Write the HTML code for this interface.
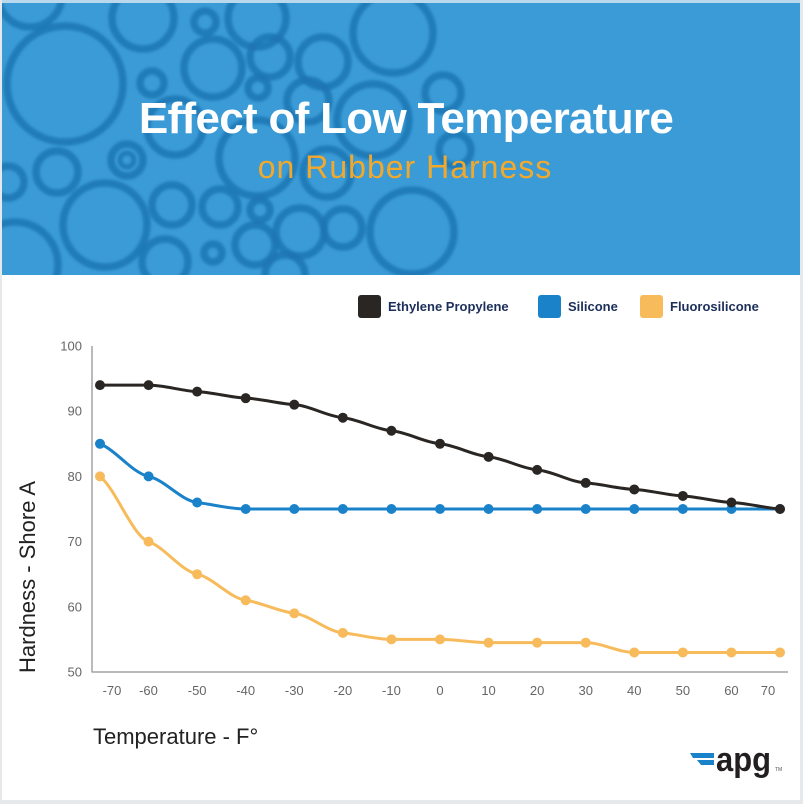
<!DOCTYPE html>
<html><head><meta charset="utf-8">
<style>
html,body{margin:0;padding:0;background:#fff;}
body{width:803px;height:804px;overflow:hidden;position:relative;font-family:"Liberation Sans",Arial,sans-serif;}
svg{display:block;}
</style></head>
<body>
<svg id="s" width="803" height="804" viewBox="0 0 803 804" xmlns="http://www.w3.org/2000/svg">
<defs>
<filter id="bl" x="-10%" y="-10%" width="120%" height="120%"><feGaussianBlur stdDeviation="1.2"/></filter>
<clipPath id="bc"><rect x="2" y="3" width="798" height="272"/></clipPath>
</defs>
<!-- frame -->
<rect x="0" y="0" width="803" height="804" fill="#e6e9ec"/>
<rect x="2" y="0" width="798" height="800" fill="#ffffff"/>
<rect x="2" y="0" width="798" height="3" fill="#b9d8ee"/>
<!-- banner -->
<rect x="2" y="3" width="798" height="272" fill="#3b9bd6"/>
<g clip-path="url(#bc)" fill="none" stroke="#1c74b1" stroke-opacity="0.8" stroke-width="7.5" filter="url(#bl)">
<circle cx="30" cy="-5" r="32"/>
<circle cx="65" cy="84" r="58"/>
<circle cx="143" cy="18" r="31"/>
<circle cx="205" cy="22" r="11"/>
<circle cx="257" cy="18" r="29"/>
<circle cx="393" cy="33" r="40"/>
<circle cx="213" cy="68" r="29"/>
<circle cx="270" cy="57" r="20"/>
<circle cx="323" cy="62" r="25"/>
<circle cx="152" cy="83" r="12"/>
<circle cx="258" cy="88" r="10"/>
<circle cx="308" cy="101" r="21"/>
<circle cx="373" cy="120" r="36"/>
<circle cx="443" cy="93" r="18"/>
<circle cx="175" cy="127" r="28"/>
<circle cx="127" cy="160" r="16"/>
<circle cx="127" cy="160" r="7" stroke-width="5"/>
<circle cx="257" cy="158" r="38"/>
<circle cx="327" cy="173" r="24"/>
<circle cx="57" cy="172" r="21"/>
<circle cx="8" cy="182" r="16"/>
<circle cx="105" cy="225" r="42"/>
<circle cx="172" cy="205" r="20"/>
<circle cx="220" cy="207" r="18"/>
<circle cx="260" cy="210" r="10"/>
<circle cx="412" cy="232" r="42"/>
<circle cx="15" cy="265" r="43"/>
<circle cx="255" cy="245" r="20"/>
<circle cx="300" cy="232" r="24"/>
<circle cx="343" cy="228" r="19"/>
<circle cx="165" cy="262" r="23"/>
<circle cx="213" cy="253" r="9"/>
<circle cx="285" cy="275" r="20"/>
<circle cx="455" cy="150" r="16"/>
</g>
<text x="406" y="133" text-anchor="middle" font-family="Liberation Sans, sans-serif" font-weight="bold" font-size="44" letter-spacing="-0.7" fill="#ffffff">Effect of Low Temperature</text>
<text x="405" y="178" text-anchor="middle" font-family="Liberation Sans, sans-serif" font-size="32" letter-spacing="1" fill="#f2a92b">on Rubber Harness</text>

<!-- legend -->
<rect x="358" y="295" width="23" height="23" rx="3" fill="#2a2624"/>
<text x="388" y="311" font-family="Liberation Sans, sans-serif" font-weight="bold" font-size="13" fill="#1c2e5a">Ethylene Propylene</text>
<rect x="538" y="295" width="23" height="23" rx="3" fill="#1a82c9"/>
<text x="568" y="311" font-family="Liberation Sans, sans-serif" font-weight="bold" font-size="13" fill="#1c2e5a">Silicone</text>
<rect x="640" y="295" width="23" height="23" rx="3" fill="#f7bb5c"/>
<text x="670" y="311" font-family="Liberation Sans, sans-serif" font-weight="bold" font-size="13" fill="#1c2e5a">Fluorosilicone</text>

<!-- axes -->
<line x1="92" y1="346" x2="92" y2="672.5" stroke="#a3a3a3" stroke-width="1.5"/>
<line x1="92" y1="672" x2="788" y2="672" stroke="#a3a3a3" stroke-width="1.5"/>
<g font-family="Liberation Sans, sans-serif" font-size="13" fill="#666" text-anchor="end">
<text x="82" y="350.5">100</text>
<text x="82" y="415.7">90</text>
<text x="82" y="480.9">80</text>
<text x="82" y="546.1">70</text>
<text x="82" y="611.3">60</text>
<text x="82" y="676.5">50</text>
</g>
<g id="xt" font-family="Liberation Sans, sans-serif" font-size="13" fill="#666" text-anchor="middle"></g>
<g id="series"></g>

<text x="93" y="744" font-family="Liberation Sans, sans-serif" font-size="22" fill="#222">Temperature - F°</text>
<text transform="translate(35,577) rotate(-90)" text-anchor="middle" font-family="Liberation Sans, sans-serif" font-size="22" fill="#222">Hardness - Shore A</text>

<!-- logo -->
<polygon points="690,753 714,753 714,758 693,758" fill="#1a82c9"/>
<polygon points="697,760 714,760 714,765 701,765" fill="#1a82c9"/>
<text x="716" y="771" font-family="Liberation Sans, sans-serif" font-weight="bold" font-size="34" textLength="55" lengthAdjust="spacingAndGlyphs" fill="#231f20">apg</text>
<text x="775" y="771" font-family="Liberation Sans, sans-serif" font-size="5" fill="#555">TM</text>
</svg>
<script>
(function(){
var NS="http://www.w3.org/2000/svg";
var xs=[];for(var i=0;i<15;i++)xs.push(100+i*(680/14));
function Y(v){return 672-(v-50)*6.52;}
var labels=["-70","-60","-50","-40","-30","-20","-10","0","10","20","30","40","50","60","70"];
var xt=document.getElementById("xt");
for(var i=0;i<15;i++){var t=document.createElementNS(NS,"text");var lx=xs[i];if(i==0)lx=112;if(i==1)lx=148.5;if(i==14)lx=768;t.setAttribute("x",lx);t.setAttribute("y",695);t.textContent=labels[i];xt.appendChild(t);}
var data=[
{c:"#2a2624",v:[94,94,93,92,91,89,87,85,83,81,79,78,77,76,75]},
{c:"#1a82c9",v:[85,80,76,75,75,75,75,75,75,75,75,75,75,75,75]},
{c:"#f7bb5c",v:[80,70,65,61,59,56,55,55,54.5,54.5,54.5,53,53,53,53]}
];
function path(px,py){
var n=px.length,h=[],s=[],m=[];
for(var i=0;i<n-1;i++){h[i]=px[i+1]-px[i];s[i]=(py[i+1]-py[i])/h[i];}
for(var i=1;i<n-1;i++){
  if(s[i-1]*s[i]<=0){m[i]=0;}
  else{m[i]=0.35*(s[i-1]+s[i])/2;}
}
m[0]=0.6*s[0];m[n-1]=0.6*s[n-2];
var d="M"+px[0]+","+py[0];
for(var i=0;i<n-1;i++){var dx=h[i]/3;d+=" C"+(px[i]+dx)+","+(py[i]+m[i]*dx)+" "+(px[i+1]-dx)+","+(py[i+1]-m[i+1]*dx)+" "+px[i+1]+","+py[i+1];}
return d;}
var g=document.getElementById("series");
data.slice().reverse().forEach(function(sr){
var py=sr.v.map(Y);
var p=document.createElementNS(NS,"path");p.setAttribute("d",path(xs,py));p.setAttribute("fill","none");p.setAttribute("stroke",sr.c);p.setAttribute("stroke-width","3");g.appendChild(p);
for(var i=0;i<15;i++){var c=document.createElementNS(NS,"circle");c.setAttribute("cx",xs[i]);c.setAttribute("cy",py[i]);c.setAttribute("r","5");c.setAttribute("fill",sr.c);g.appendChild(c);}
});
})();
</script>
</body></html>
